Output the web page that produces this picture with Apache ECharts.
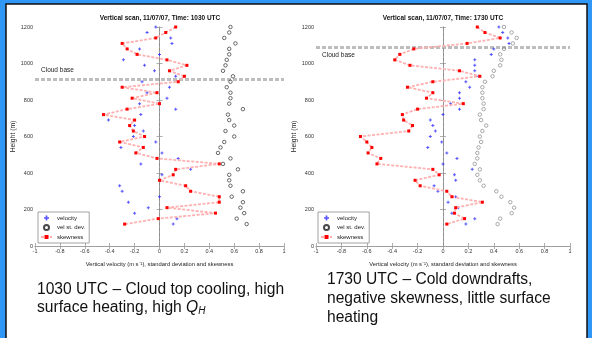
<!DOCTYPE html>
<html>
<head>
<meta charset="utf-8">
<script src="https://cdn.jsdelivr.net/npm/echarts@6/dist/echarts.min.js"></script>
<style>
  html, body { margin: 0; padding: 0; background: #3097f7; }
  #main { width: 592px; height: 338px; }
</style>
</head>
<body>
<div id="main"></div>
<script>
// heights of the scan levels (m), top to bottom
var heights = [1200, 1170, 1140, 1110, 1080, 1050, 1020, 990, 960, 930, 900, 870, 840, 810, 780, 750, 720, 690, 660,
	630, 600, 570, 540, 510, 480, 450, 420, 390, 360, 330, 300, 270, 240, 210, 180, 150, 120];

// 1030 UTC
var velocity1030 = [-0.03, -0.10, 0.09, 0.10, -0.16, 0.00, -0.29, -0.12, -0.04, 0.13, -0.14, 0.08, -0.10, 0.06, -0.16, 0.13,
	-0.15, -0.41, -0.20, -0.13, -0.21, -0.03, -0.31, 0.02, 0.15, -0.15, 0.25, 0.02, 0.01, -0.32, -0.30, 0.00, -0.25, -0.09,
	-0.20, 0.14, 0.11];
var stdev1030 = [0.57, 0.56, 0.52, 0.61, 0.56, 0.56, 0.54, 0.53, 0.51, 0.59, 0.57, 0.54, 0.57, 0.57, 0.56, 0.67, 0.55, 0.56,
	0.60, 0.53, 0.60, 0.52, 0.49, 0.47, 0.57, 0.51, 0.63, 0.56, 0.56, 0.57, 0.67, 0.58, 0.67, 0.65, 0.68, 0.62, 0.70];
var skew1030 = [0.13, 0.05, -0.03, -0.30, -0.26, -0.18, 0.06, 0.22, 0.08, 0.20, 0.15, -0.30, -0.02, -0.22, 0.00, -0.26,
	-0.45, -0.20, -0.24, -0.21, -0.12, -0.32, -0.13, -0.19, -0.02, 0.48, 0.13, 0.11, 0.00, 0.21, 0.25, 0.48, 0.48, 0.06,
	0.45, -0.01, -0.28];

// 1730 UTC
var velocity1730 = [0.44, 0.47, 0.51, 0.52, 0.40, 0.38, 0.25, 0.25, 0.25, 0.28, 0.18, 0.21, 0.13, 0.13, 0.06, 0.13, 0.00,
	-0.10, -0.08, -0.06, -0.10, -0.01, -0.12, 0.03, 0.11, 0.00, 0.23, 0.09, 0.10, -0.07, -0.04, 0.10, 0.04, 0.12, 0.07,
	0.25, 0.18];
var stdev1730 = [0.48, 0.54, 0.58, 0.55, 0.48, 0.45, 0.46, 0.45, 0.40, 0.39, 0.33, 0.31, 0.31, 0.31, 0.32, 0.32, 0.29, 0.30,
	0.34, 0.31, 0.29, 0.30, 0.28, 0.27, 0.27, 0.25, 0.29, 0.27, 0.29, 0.32, 0.42, 0.46, 0.53, 0.56, 0.54, 0.45, 0.43];
var skew1730 = [0.27, 0.33, 0.45, 0.19, -0.23, -0.34, -0.38, -0.26, 0.13, 0.29, -0.08, -0.28, -0.08, -0.13, 0.16, -0.20,
	-0.32, -0.31, -0.24, -0.27, -0.65, -0.60, -0.56, -0.59, -0.49, -0.52, -0.08, -0.03, -0.22, -0.18, 0.03, 0.07, 0.31,
	0.10, 0.09, 0.17, 0.03];

var cloudBase = [915, 1090];
var titles = ['Vertical scan, 11/07/07, Time: 1030 UTC', 'Vertical scan, 11/07/07, Time: 1730 UTC'];
var legendNames = ['velocity', 'vel st. dev.', 'skewness'];

var chart = echarts.init(document.getElementById('main'));

var grids = [
	{ left: 35, top: 27, width: 249, height: 219 },
	{ left: 316, top: 27, width: 254, height: 219 }
];

function pairs(xs) {
	return heights.map(function (h, i) { return [xs[i], h]; });
}

var xAxes = [], yAxes = [];
grids.forEach(function (g, gi) {
	// bottom axis with labels, top axis only for the box
	xAxes.push({
		type: 'value', gridIndex: gi, min: -1, max: 1, interval: 0.2,
		axisLine: { lineStyle: { color: '#9a9a9a', width: 0.8 } },
		axisTick: { inside: true, length: 3, lineStyle: { color: '#9a9a9a', width: 0.8 } },
		axisLabel: { fontSize: 5.5, color: '#333', margin: 2, fontFamily: 'Liberation Sans' },
		splitLine: { show: false },
		name: 'Vertical velocity (m s\u207B\u00B9), standard deviation and skewness',
		nameLocation: 'middle', nameGap: 15,
		nameTextStyle: { fontSize: 5.8, color: '#222', fontFamily: 'Liberation Sans' }
	});
	xAxes.push({
		type: 'value', gridIndex: gi, position: 'top', min: -1, max: 1, interval: 0.2,
		axisLine: { lineStyle: { color: '#9a9a9a', width: 0.8 } },
		axisTick: { inside: true, length: 3, lineStyle: { color: '#9a9a9a', width: 0.8 } },
		axisLabel: { show: false },
		splitLine: { show: false }
	});
	yAxes.push({
		type: 'value', gridIndex: gi, min: 0, max: 1200, interval: 200,
		axisLine: { show: true, lineStyle: { color: '#9a9a9a', width: 0.8 } },
		axisTick: { show: true, inside: true, length: 3, lineStyle: { color: '#9a9a9a', width: 0.8 } },
		axisLabel: {
			fontSize: 5.5, color: '#333', margin: 2, fontFamily: 'Liberation Sans',
			formatter: function (v) { return String(v); }
		},
		splitLine: { show: false },
		name: 'Height (m)', nameLocation: 'middle', nameGap: 17,
		nameTextStyle: { fontSize: 6.8, color: '#222', fontFamily: 'Liberation Sans' }
	});
	yAxes.push({
		type: 'value', gridIndex: gi, position: 'right', min: 0, max: 1200, interval: 200,
		axisLine: { show: true, lineStyle: { color: '#9a9a9a', width: 0.8 } },
		axisTick: { show: true, inside: true, length: 3, lineStyle: { color: '#9a9a9a', width: 0.8 } },
		axisLabel: { show: false },
		splitLine: { show: false }
	});
});

function panelSeries(gi, vel, std, skew, cloud, circleColor, cloudLabelPos) {
	return [
		{
			name: 'velocity', type: 'scatter', xAxisIndex: gi * 2, yAxisIndex: gi * 2,
			data: pairs(vel),
			symbol: 'path://M0,1h3v1h-3z M1,0h1v3h-1z', symbolSize: 3,
			itemStyle: { color: '#2a2aff' },
			markLine: {
				silent: true, symbol: ['none', 'none'], animation: false, z: 1,
				data: [
					{
						yAxis: cloud,
						lineStyle: { color: '#bdbdbd', width: 3, type: [4, 2] },
						label: {
							show: true, formatter: 'Cloud base', position: cloudLabelPos, distance: [6, 5],
							fontSize: 6.5, color: '#222', fontFamily: 'Liberation Sans'
						}
					},
					{
						xAxis: 0,
						lineStyle: { color: '#8a8a8a', width: 0.8, type: [3, 2] },
						label: { show: false }
					}
				]
			}
		},
		{
			name: 'vel st. dev.', type: 'scatter', xAxisIndex: gi * 2, yAxisIndex: gi * 2,
			data: pairs(std),
			symbol: 'circle', symbolSize: 3.5,
			itemStyle: { color: 'rgba(255,255,255,0)', borderColor: circleColor, borderWidth: 0.8 }
		},
		{
			name: 'skewness', type: 'line', xAxisIndex: gi * 2, yAxisIndex: gi * 2,
			data: pairs(skew), z: 3,
			symbol: 'rect', symbolSize: 3, showAllSymbol: true,
			itemStyle: { color: '#ff0000', borderWidth: 0 },
			lineStyle: { color: '#ffb0b0', width: 1.8, type: [3, 1.5] }
		}
	];
}

function legendAt(left) {
	return {
		left: left, top: 212, orient: 'vertical',
		data: legendNames,
		backgroundColor: '#fff', borderColor: '#8a8a8a', borderWidth: 0.8,
		padding: [3, 4, 3, 2], itemGap: 3, itemWidth: 11, itemHeight: 5,
		textStyle: { fontSize: 6, color: '#222', fontFamily: 'Liberation Sans' },
		selectedMode: false
	};
}

var textFont = 'Liberation Sans';

option = {
	animation: false,
	backgroundColor: '#3097f7',
	graphic: [
		{
			type: 'rect', z: -10, silent: true,
			shape: { x: 6, y: 4, width: 581, height: 340 },
			style: { fill: '#ffffff', stroke: '#111111', lineWidth: 1.5 }
		},
		{
			type: 'text', x: 160, y: 15, silent: true,
			style: { text: titles[0], fontSize: 6.5, fontWeight: 'bold', fill: '#111', fontFamily: textFont, align: 'center' }
		},
		{
			type: 'text', x: 443, y: 15, silent: true,
			style: { text: titles[1], fontSize: 6.5, fontWeight: 'bold', fill: '#111', fontFamily: textFont, align: 'center' }
		},
		{
			type: 'text', x: 37, y: 281, silent: true,
			style: {
				text: '1030 UTC \u2013 Cloud top cooling, high\nsurface heating, high {q|Q}{h|H}',
				fontSize: 15.6, lineHeight: 18, fill: '#111', fontFamily: textFont,
				rich: {
					q: { fontSize: 15.6, fontStyle: 'italic', fontFamily: textFont, fill: '#111' },
					h: { fontSize: 10, fontStyle: 'italic', fontFamily: textFont, fill: '#111', padding: [7, 0, 0, 0] }
				}
			}
		},
		{
			type: 'text', x: 327, y: 270, silent: true,
			style: {
				text: '1730 UTC \u2013 Cold downdrafts,\nnegative skewness, little surface\nheating',
				fontSize: 15.6, lineHeight: 19, fill: '#111', fontFamily: textFont
			}
		}
	],
	grid: grids,
	xAxis: xAxes,
	yAxis: yAxes,
	legend: [legendAt(38), legendAt(318)],
	series: panelSeries(0, velocity1030, stdev1030, skew1030, cloudBase[0], '#1a1a1a', 'insideStartTop')
		.concat(panelSeries(1, velocity1730, stdev1730, skew1730, cloudBase[1], '#7a7a7a', 'insideStartBottom'))
};

chart.setOption(option);
</script>
</body>
</html>
